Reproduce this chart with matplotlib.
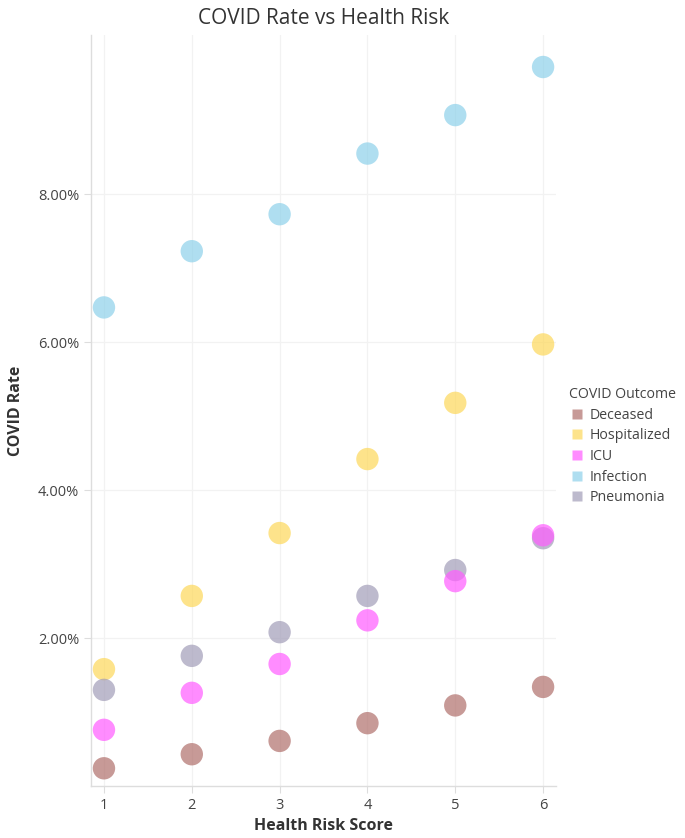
import matplotlib.pyplot as plt
from matplotlib.ticker import FuncFormatter
from matplotlib.lines import Line2D

plt.rcParams['font.family'] = ['Open Sans', 'DejaVu Sans']

risk_score = [1, 2, 3, 4, 5, 6]
outcomes = ['Deceased', 'Hospitalized', 'ICU', 'Infection', 'Pneumonia']
deceased = [0.24, 0.43, 0.61, 0.85, 1.09, 1.34]
hospitalized = [1.58, 2.57, 3.42, 4.42, 5.18, 5.97]
icu = [0.76, 1.26, 1.65, 2.24, 2.77, 3.39]
infection = [6.47, 7.23, 7.73, 8.55, 9.07, 9.72]
pneumonia = [1.30, 1.76, 2.08, 2.57, 2.92, 3.35]
colors = ['#b06f6b', '#fdd85a', '#ff5cff', '#8ed1ea', '#a29db8']

rates = [deceased, hospitalized, icu, infection, pneumonia]
draw_order = [3, 1, 4, 2, 0]

fig = plt.figure(figsize=(6.85, 8.38), dpi=100)
ax = fig.add_axes([0.1328, 0.062, 0.679, 0.896])

for i in draw_order:
    ax.scatter(risk_score, rates[i], s=260, color=colors[i], alpha=0.7,
               edgecolors='none', label=outcomes[i], zorder=3)

ax.set_xlim(0.852, 6.148)
ax.set_ylim(0, 10.15)
ax.set_xticks(risk_score)
ax.set_yticks([2, 4, 6, 8])
ax.yaxis.set_major_formatter(FuncFormatter(lambda v, p: f'{v:.2f}%'))
ax.grid(True, color='#f2f2f2', linewidth=0.9, zorder=0)
for side in ['top', 'right']:
    ax.spines[side].set_visible(False)
for side in ['left', 'bottom']:
    ax.spines[side].set_color('#dddddd')
    ax.spines[side].set_linewidth(1)
ax.tick_params(colors='#dddddd', labelcolor='#444444', labelsize=10.5, length=5, width=0.8)

ax.set_title('COVID Rate vs Health Risk', fontsize=15, color='#333333', pad=8)
ax.set_xlabel('Health Risk Score', fontsize=11.5, fontweight='bold', color='#333333', labelpad=4)
ax.set_ylabel('COVID Rate', fontsize=11.5, fontweight='bold', color='#333333', labelpad=10)

leg_handles = [Line2D([], [], marker='s', linestyle='none', markersize=7.5,
                      markerfacecolor=colors[i], markeredgecolor='none', alpha=0.7)
               for i in range(len(outcomes))]
leg = fig.legend(leg_handles, outcomes, title='COVID Outcome', loc='upper left',
                 bbox_to_anchor=(0.822, 0.545), frameon=False, fontsize=10.2,
                 title_fontsize=10.2, handletextpad=0.3, labelspacing=0.4,
                 handlelength=1.2, borderaxespad=0)
leg._legend_box.align = 'left'
for t in leg.get_texts():
    t.set_color('#444444')
leg.get_title().set_color('#444444')

fig.savefig('out.png', dpi=100)
